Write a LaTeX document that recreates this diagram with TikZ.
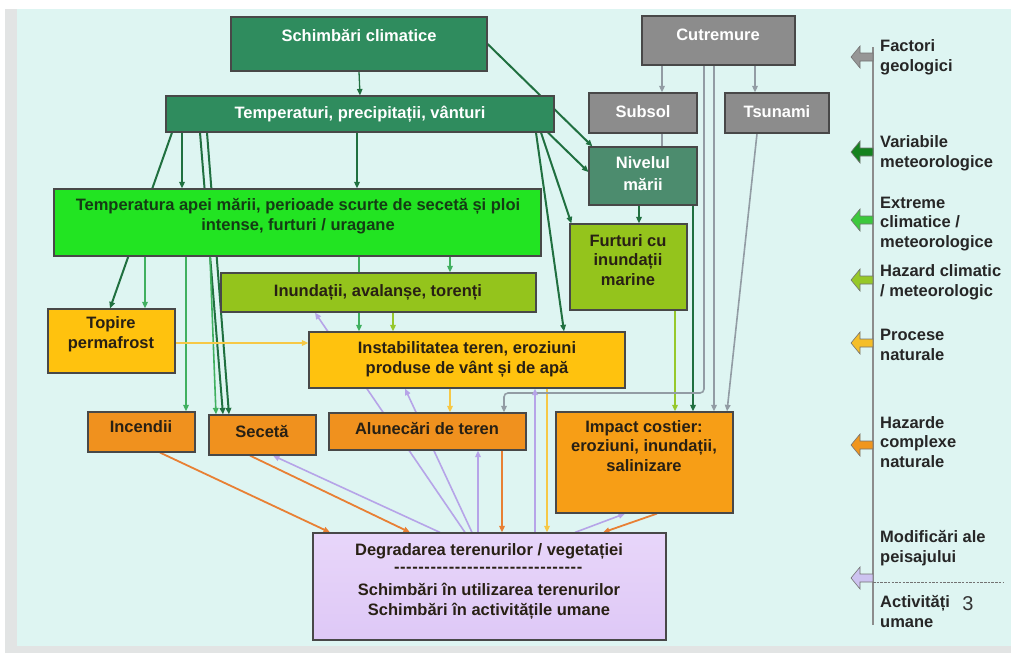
\documentclass[tikz,border=0pt]{standalone}
\usepackage{fontspec}
\setmainfont{Liberation Sans}
\usetikzlibrary{arrows.meta}
\pgfdeclarelayer{backg}
\pgfdeclarelayer{lines}
\pgfsetlayers{backg,lines,main}
\definecolor{bgcyan}{RGB}{222,245,242}
\definecolor{stripgrey}{RGB}{226,228,228}
\definecolor{seagreen}{RGB}{47,140,94}
\definecolor{greybox}{RGB}{140,140,140}
\definecolor{nivgreen}{RGB}{76,140,110}
\definecolor{brightgreen}{RGB}{34,228,34}
\definecolor{ygreen}{RGB}{148,196,28}
\definecolor{gold}{RGB}{255,194,14}
\definecolor{orangebox}{RGB}{240,145,30}
\definecolor{orangebig}{RGB}{247,158,22}
\definecolor{lavender}{RGB}{232,214,250}
\definecolor{lavender2}{RGB}{222,200,246}
\definecolor{boxborder}{RGB}{72,72,72}
\definecolor{darktext}{RGB}{40,32,20}
\definecolor{greentext}{RGB}{20,60,20}
\definecolor{cdark}{RGB}{32,112,64}
\definecolor{cmid}{RGB}{64,176,96}
\definecolor{cyg}{RGB}{150,200,44}
\definecolor{cyel}{RGB}{246,200,70}
\definecolor{corange}{RGB}{232,128,52}
\definecolor{cpurple}{RGB}{182,164,232}
\definecolor{cgrey}{RGB}{146,156,164}
\definecolor{lgrey}{RGB}{150,150,150}
\definecolor{lgreen1}{RGB}{20,130,30}
\definecolor{lgreen2}{RGB}{60,200,60}
\definecolor{lyg}{RGB}{150,200,40}
\definecolor{lyel}{RGB}{245,190,40}
\definecolor{lorange}{RGB}{240,150,30}
\definecolor{llav}{RGB}{205,195,240}
\newcommand\mybox[6]{\node[box,#6,minimum width={#4-#2},minimum height={#5-#3}] (#1) at ({(#2+#4)/2},{(#3+#5)/2}) {};}
\tikzset{
  box/.style={draw=boxborder,line width=1.2pt,inner sep=0pt,rectangle},
  txt/.style={font=\bfseries\fontsize{16.5}{19.5}\selectfont,align=center,inner sep=0pt,text height=12pt,text depth=3.5pt,text=darktext},
  wtxt/.style={txt,text=white},
  ltxt/.style={txt,align=left,anchor=west,text=black!85},
  arr/.style={-{Triangle[length=6.5pt,width=5.5pt]}},
  ldark/.style={draw=cdark,line width=2pt,arr},
  lmid/.style={draw=cmid,line width=1.6pt,arr},
  lyg/.style={draw=cyg,line width=1.6pt,arr},
  lyel/.style={draw=cyel,line width=1.6pt,arr},
  lorg/.style={draw=corange,line width=1.8pt,arr},
  lpur/.style={draw=cpurple,line width=1.6pt,arr},
  lgry/.style={draw=cgrey,line width=1.6pt,arr},
  legarrow/.style={draw=black!55,line width=0.6pt},
}
\begin{document}
\begin{tikzpicture}[x=1pt,y=-1pt]
\useasboundingbox (0,0) rectangle (1011,653);
\begin{pgfonlayer}{backg}
\fill[white] (0,0) rectangle (1011,653);
\fill[stripgrey] (5,9) rectangle (17,653);
\fill[bgcyan] (17,9) rectangle (1011,646);
\fill[stripgrey] (17,646) rectangle (1011,653);
\end{pgfonlayer}
% boxes
\mybox{sc}{231}{17}{487}{71}{fill=seagreen}
\mybox{tp}{166}{96}{554}{132}{fill=seagreen}
\mybox{cu}{642}{16}{795}{65}{fill=greybox}
\mybox{ss}{589}{93}{697}{133}{fill=greybox}
\mybox{ts}{725}{93}{829}{133}{fill=greybox}
\mybox{nm}{589}{147}{697}{205}{fill=nivgreen}
\mybox{bg}{54}{189}{541}{256}{fill=brightgreen}
\mybox{in}{221}{273}{536}{312}{fill=ygreen}
\mybox{fm}{570}{224}{687}{310}{fill=ygreen}
\mybox{tpf}{48}{309}{175}{373}{fill=gold}
\mybox{it}{309}{332}{625}{388}{fill=gold}
\mybox{inc}{88}{412}{195}{452}{fill=orangebox}
\mybox{sec}{209}{415}{316}{455}{fill=orangebox}
\mybox{al}{329}{413}{526}{450}{fill=orangebox}
\mybox{ic}{556}{412}{733}{513}{fill=orangebig}
\mybox{dg}{313}{533}{666}{640}{top color=lavender,bottom color=lavender2}
% texts (node y = last line)
\node[wtxt] (sct) at (359,37) {Schimbări climatice};
\node[wtxt] (tpt) at (360,114) {Temperaturi, precipitații, vânturi};
\node[wtxt] (cut) at (718,36) {Cutremure};
\node[wtxt] (sst) at (643,113) {Subsol};
\node[wtxt] (tst) at (777,113) {Tsunami};
\node[wtxt] (nmt) at (643,186) {Nivelul\\[2pt]mării};
\node[txt,text=greentext] (bgt) at (298,226) {Temperatura apei mării, perioade scurte de secetă și ploi\\intense, furturi / uragane};
\node[txt] (intx) at (378,292) {Inundații, avalanșe, torenți};
\node[txt] (fmt) at (628,281) {Furturi cu\\inundații\\marine};
\node[txt] (tpft) at (111,344) {Topire\\permafrost};
\node[txt] (itt) at (467,369) {Instabilitatea teren, eroziuni\\produse de vânt și de apă};
\node[txt] (inct) at (141,428) {Incendii};
\node[txt] (sect) at (262,433) {Secetă};
\node[txt] (alt) at (427,430) {Alunecări de teren};
\node[txt] (ict) at (644,467) {Impact costier:\\eroziuni, inundații,\\salinizare};
\node[txt] (dgt1) at (489,551) {Degradarea terenurilor / vegetației};
\node[txt,text depth=0pt,text height=3pt] (dgd) at (489,571) {\hbox to 190pt{\leaders\hbox{-\kern0.6pt}\hfill}};
\node[txt] (dgt2) at (489,611) {Schimbări în utilizarea terenurilor\\Schimbări în activitățile umane};
% connectors
\begin{pgfonlayer}{lines}
\draw[ldark,line width=1.3pt] (sc.south) -- (tp.north);
\draw[ldark] (sc.east) -- ([xshift=4pt]nm.north west);
\draw[ldark] (548,0 |- tp.south) -- ([yshift=4pt]nm.west);
\draw[ldark] (541,0 |- tp.south) -- ([xshift=2pt]fm.north west);
\draw[ldark] (536,0 |- tp.south) -- (564,0 |- it.north);
\draw[ldark] (357,0 |- tp.south) -- (357,0 |- bg.north);
\draw[ldark] (172,0 |- tp.south) -- (110,0 |- tpf.north);
\draw[ldark] (182,0 |- tp.south) -- (182,0 |- bg.north);
\draw[ldark] (200,0 |- tp.south) -- (223,0 |- sec.north);
\draw[ldark] (207,0 |- tp.south) -- (229,0 |- sec.north);
\draw[lmid] (145,0 |- bg.south) -- (145,0 |- tpf.north);
\draw[lmid] (186,0 |- bg.south) -- (186,0 |- inc.north);
\draw[lmid] (210,0 |- bg.south) -- (216,0 |- sec.north);
\draw[lmid] (359,0 |- bg.south) -- (359,0 |- it.north);
\draw[lmid] (450,0 |- bg.south) -- (450,0 |- in.north);
\draw[lyg] (393,0 |- in.south) -- (393,0 |- it.north);
\draw[lyel] (tpf.east |- 0,343) -- (it.west |- 0,343);
\draw[lyel] (450,0 |- it.south) -- (450,0 |- al.north);
\draw[lyel] (547,0 |- it.south) -- (547,0 |- dg.north);
\draw[lgry] (662,0 |- cu.south) -- (662,0 |- ss.north);
\draw[lgry] (755,0 |- cu.south) -- (755,0 |- ts.north);
\draw[draw=cgrey,line width=1.6pt] (662,0 |- ss.south) -- (662,0 |- nm.north);
\draw[ldark] (639,0 |- nm.south) -- (639,0 |- fm.north);
\draw[ldark] (693,0 |- nm.south) -- (693,0 |- ic.north);
\draw[lyg] (675,0 |- fm.south) -- (675,0 |- ic.north);
\draw[lgry,rounded corners=4pt] (704,0 |- cu.south) -- (704,393) -- (504,393) -- (504,0 |- al.north);
\draw[lgry] (714,0 |- cu.south) -- (714,0 |- ic.north);
\draw[lgry] (757,0 |- ts.south) -- (727,0 |- ic.north);
\draw[lorg] (160,0 |- inc.south) -- (330,0 |- dg.north);
\draw[lorg] (250,0 |- sec.south) -- (410,0 |- dg.north);
\draw[lpur] (440,0 |- dg.north) -- (273,0 |- sec.south);
\draw[lpur] (465,0 |- dg.north) -- (315,0 |- in.south);
\draw[lpur] (472,0 |- dg.north) -- (405,0 |- it.south);
\draw[lpur] (478,0 |- dg.north) -- (478,0 |- al.south);
\draw[lorg] (502,0 |- al.south) -- (502,0 |- dg.north);
\draw[lpur] (535,0 |- dg.north) -- (535,0 |- it.south);
\draw[lpur] (575,0 |- dg.north) -- (625,0 |- ic.south);
\draw[lorg] (657,0 |- ic.south) -- (603,0 |- dg.north);
% legend axis
\coordinate (axtop) at (873,47);
\coordinate (axbot) at (873,625);
\draw[draw=black!45,line width=1.4pt] (axtop) -- (axbot);
\end{pgfonlayer}
% legend arrows
\foreach \yy/\cc in {57/lgrey,152/lgreen1,220/lgreen2,280/lyg,343/lyel,445/lorange,578/llav}{
  \draw[legarrow,fill=\cc] (851,\yy) -- ++(9,-11) -- ++(0,7) -- ++(13,0) -- ++(0,8) -- ++(-13,0) -- ++(0,7) -- cycle;
}
\node[ltxt] (lt1) at (880,67) {Factori\\geologici};
\node[ltxt] (lt2) at (880,163) {Variabile\\meteorologice};
\node[ltxt] (lt3) at (880,243) {Extreme\\climatice /\\meteorologice};
\node[ltxt] (lt4) at (880,292) {Hazard climatic\\/ meteorologic};
\node[ltxt] (lt5) at (880,356) {Procese\\naturale};
\node[ltxt] (lt6) at (880,463) {Hazarde\\complexe\\naturale};
\node[ltxt] (lt7) at (880,558) {Modificări ale\\peisajului};
\coordinate (dl1) at (873,582);
\coordinate (dl2) at (1003,582);
\draw[draw=black!55,line width=1pt,dash pattern=on 2.5pt off 1.2pt] (dl1) -- (dl2);
\node[ltxt] (lt8) at (880,623) {Activități\\umane};
\node[font=\fontsize{20}{22}\selectfont,inner sep=0pt,text=black!80] (pg) at (968,604) {3};
\end{tikzpicture}
\end{document}
